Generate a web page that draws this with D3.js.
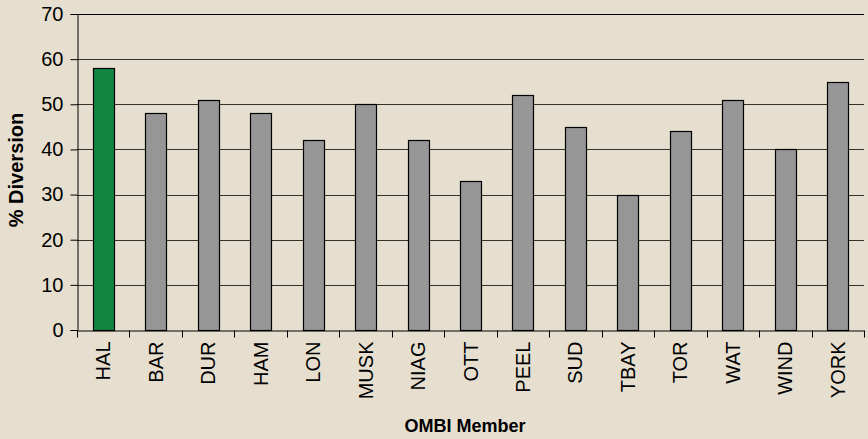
<!DOCTYPE html>
<html><head><meta charset="utf-8">
<script src="https://cdn.jsdelivr.net/npm/d3@7/dist/d3.min.js"></script>
<style>html,body{margin:0;padding:0;background:#e6dfcf;}svg{display:block;}</style>
</head><body>
<script>
const categories = ["HAL","BAR","DUR","HAM","LON","MUSK","NIAG","OTT","PEEL","SUD","TBAY","TOR","WAT","WIND","YORK"];
const values = [58,48,51,48,42,50,42,33,52,45,30,44,51,40,55];
const yTicks = [0,10,20,30,40,50,60,70];
const highlight = "HAL";

const W = 868, H = 439;
const m = {left:77, right:4, top:14, bottom:109};
const FONT = "Liberation Sans, Arial, sans-serif";
const svg = d3.select("body").append("svg").attr("width",W).attr("height",H);
svg.append("rect").attr("width",W).attr("height",H).attr("fill","#e6dfcf");

const x = d3.scaleBand().domain(categories).range([m.left, W-m.right]).paddingInner(0.6).paddingOuter(0.3);
const y = d3.scaleLinear().domain([0,70]).range([H-m.bottom, m.top]);

// gridlines
svg.append("g").selectAll("line").data(yTicks.filter(d=>d>0)).join("line")
  .attr("x1",m.left).attr("x2",W-m.right)
  .attr("y1",d=>Math.round(y(d))+0.5).attr("y2",d=>Math.round(y(d))+0.5)
  .attr("stroke",d=>d===70?"#000":"#35332b").attr("stroke-width",1);

// bars
svg.append("g").selectAll("rect").data(categories).join("rect")
  .attr("x",d=>Math.round(x(d))+0.5)
  .attr("y",(d,i)=>Math.round(y(values[i]))+0.5)
  .attr("width",Math.round(x.bandwidth()))
  .attr("height",(d,i)=>Math.round(y(0))-Math.round(y(values[i])))
  .attr("fill",d=>d===highlight?"#128640":"#969696")
  .attr("stroke","#000").attr("stroke-width",1.2);

// y axis
const ya = svg.append("g").attr("transform",`translate(${m.left+0.5},0)`)
  .call(d3.axisLeft(y).tickValues(yTicks).tickSize(7).tickPadding(7));
ya.select(".domain").attr("stroke","#000");
ya.selectAll(".tick line").attr("stroke","#000");
ya.selectAll("text").attr("font-family",FONT).attr("font-size",20).attr("fill","#000");

// x axis
const xa = svg.append("g").attr("transform",`translate(0,${Math.round(y(0))+0.5})`)
  .call(d3.axisBottom(x).tickSize(0).tickPadding(0));
xa.select(".domain").attr("stroke","#000");
xa.selectAll(".tick text").remove();
const bnd = d3.range(categories.length+1).map(i=>m.left + i*(W-m.left-m.right)/categories.length);
xa.selectAll(".bt").data(bnd).join("line").attr("class","bt")
  .attr("x1",d=>Math.round(d)+0.5).attr("x2",d=>Math.round(d)+0.5)
  .attr("y1",0).attr("y2",7).attr("stroke","#000");
xa.selectAll(".lbl").data(categories).join("text").attr("class","lbl")
  .attr("transform",d=>`translate(${x(d)+x.bandwidth()/2+7},11) rotate(-90)`)
  .attr("text-anchor","end")
  .attr("font-family",FONT).attr("font-size",20).attr("fill","#000")
  .text(d=>d);

// titles
svg.append("text").attr("x",465).attr("y",432).attr("text-anchor","middle")
  .attr("font-family",FONT).attr("font-weight","bold").attr("font-size",18)
  .text("OMBI Member");
svg.append("text").attr("transform",`translate(23,170) rotate(-90)`).attr("text-anchor","middle")
  .attr("font-family",FONT).attr("font-weight","bold").attr("font-size",20)
  .text("% Diversion");
</script>
</body></html>
